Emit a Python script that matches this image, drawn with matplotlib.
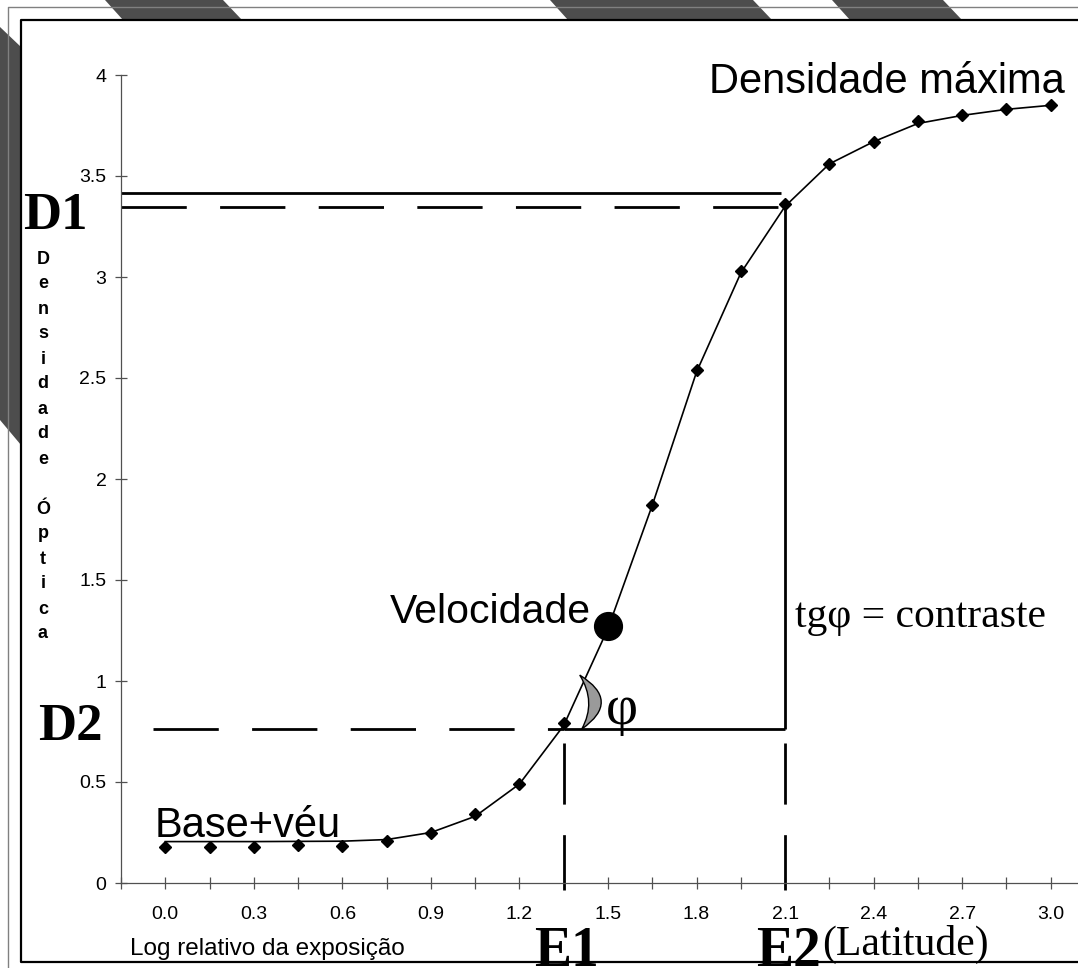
import matplotlib
matplotlib.use('Agg')
import matplotlib.pyplot as plt
import matplotlib.transforms as mtransforms
from matplotlib.patches import Polygon, PathPatch
from matplotlib.path import Path

plt.rcParams['font.family'] = ['Liberation Sans', 'DejaVu Sans']
plt.rcParams['lines.scale_dashes'] = False

# curva caracteristica
log_exp = [0.0, 0.15, 0.3, 0.45, 0.6, 0.75, 0.9, 1.05, 1.2, 1.35, 1.5,
           1.65, 1.8, 1.95, 2.1, 2.25, 2.4, 2.55, 2.7, 2.85, 3.0]
densidade = [0.18, 0.18, 0.18, 0.19, 0.185, 0.21, 0.25, 0.34, 0.49, 0.79, 1.27,
             1.87, 2.54, 3.03, 3.36, 3.56, 3.67, 3.77, 3.80, 3.83, 3.85]
curva = [0.205, 0.205, 0.205, 0.206, 0.207, 0.215, 0.25, 0.33, 0.49, 0.78, 1.26,
         1.87, 2.53, 3.02, 3.35, 3.56, 3.67, 3.76, 3.80, 3.83, 3.85]

vel_x, vel_y = 1.5, 1.27
E1, E2 = 1.35, 2.1
D1, D2 = 3.345, 0.762
D1_sup = 3.414

y_ticks = [0, 0.5, 1, 1.5, 2, 2.5, 3, 3.5, 4]
y_labels = ['0', '0.5', '1', '1.5', '2', '2.5', '3', '3.5', '4']

W, H = 1078, 968
fig = plt.figure(figsize=(W / 100, H / 100), dpi=100)


def fx(x):
    return x / W


def fy(y):
    return 1 - y / H


def ftext(x, y, s, **kw):
    fig.text(fx(x), fy(y), s, **kw)


# moldura / listras decorativas
stripes = [
    [(105, 0), (223, 0), (242, 20), (123, 20)],
    [(550, 0), (753, 0), (772, 20), (568, 20)],
    [(832, 0), (943, 0), (962, 20), (850, 20)],
    [(0, 27), (21, 47), (21, 445), (0, 420)],
]
for st in stripes:
    fig.add_artist(Polygon([(fx(a), fy(b)) for a, b in st], closed=True,
                           transform=fig.transFigure, color='#4d4d4d', lw=0, zorder=0))
fig.add_artist(plt.Line2D([fx(8), fx(8), 1], [0, fy(7), fy(7)], transform=fig.transFigure,
                          color='#808080', lw=1.0, zorder=1))
fig.add_artist(plt.Line2D([1, fx(21), fx(21), 1], [fy(20), fy(20), fy(962), fy(962)],
                          transform=fig.transFigure, color='black', lw=1.6, zorder=1))

ax = fig.add_axes([121 / W, (H - 883) / H, (1095 - 121) / W, (883 - 75) / H])
ax.patch.set_alpha(0)
ax.set_xlim(-0.15, 3.15)
ax.set_ylim(0, 4)
for s in ['top', 'right']:
    ax.spines[s].set_visible(False)
for s in ['left', 'bottom']:
    ax.spines[s].set_color('#505050')
    ax.spines[s].set_linewidth(0.9)

xt = [-0.15] + log_exp
ax.set_xticks(xt)
ax.set_xticklabels(['' if i % 2 == 0 else f'{v:.1f}' for i, v in enumerate(xt)])
ax.set_yticks(y_ticks)
ax.set_yticklabels(y_labels)
ax.tick_params(axis='both', direction='inout', length=9, width=0.9, color='#505050',
               labelsize=14)
ax.tick_params(axis='x', pad=12)
ax.tick_params(axis='y', pad=6)

# linhas auxiliares
ax.plot([-0.15, 2.087], [D1_sup, D1_sup], color='black', lw=2, solid_capstyle='butt')
ax.plot([-0.15, E2], [D1, D1], color='black', lw=2, dashes=(47, 24))
ax.plot([-0.042, E1], [D2, D2], color='black', lw=2, dashes=(47, 24))
ax.plot([E1, E2], [D2, D2], color='black', lw=2, solid_capstyle='butt')
ax.plot([E2, E2], [D2, D1], color='black', lw=2, solid_capstyle='butt')
for e in [E1, E2]:
    ax.plot([e, e], [0.693, -0.035], color='black', lw=2, dashes=(44, 22), clip_on=False)

# curva + pontos
ax.plot(log_exp, curva, color='black', lw=1.2, zorder=3)
ax.plot(log_exp, densidade, 'D', color='black', ms=6.5, zorder=4)
ax.plot([vel_x], [vel_y], 'o', color='black', ms=20, zorder=5)

# angulo (crescente cinza)
verts = [(16, 54), (58, 28), (18, 0), (33, 27), (16, 54), (16, 54)]
codes = [Path.MOVETO, Path.CURVE3, Path.CURVE3, Path.CURVE3, Path.CURVE3, Path.CLOSEPOLY]
cx, cy = ax.transData.transform((E1, D2))
arc = PathPatch(Path(verts, codes), facecolor='#9a9a9a', edgecolor='black', lw=1.0,
                transform=mtransforms.Affine2D().translate(cx, cy), zorder=6)
fig.add_artist(arc)

# textos
serif = ['Liberation Serif', 'DejaVu Serif']
ftext(1065, 93, 'Densidade máxima', fontsize=30, ha='right', va='baseline')
ftext(390, 623, 'Velocidade', fontsize=29.5, ha='left', va='baseline')
ftext(155, 837, 'Base+véu', fontsize=30, ha='left', va='baseline')
ftext(795, 627, 'tgφ = contraste', fontsize=30, ha='left', va='baseline', family=serif)
ftext(606, 724, 'φ', fontsize=40, ha='left', va='baseline', family=serif)
ftext(23, 229, 'D1', fontsize=38, ha='left', va='baseline', family=serif, weight='bold')
ftext(38, 740, 'D2', fontsize=38, ha='left', va='baseline', family=serif, weight='bold')
ftext(566, 966, 'E1', fontsize=40, ha='center', va='baseline', family=serif, weight='bold')
ftext(788, 966, 'E2', fontsize=40, ha='center', va='baseline', family=serif, weight='bold')
ftext(822, 955, '(Latitude)', fontsize=30, ha='left', va='baseline', family=serif)
ftext(130, 955, 'Log relativo da exposição', fontsize=17.5, ha='left', va='baseline')

for i, ch in enumerate('Densidade Óptica'):
    ftext(43, 259 + i * 25, ch, fontsize=13, weight='bold', ha='center', va='center')

fig.savefig('out.png', dpi=100)
